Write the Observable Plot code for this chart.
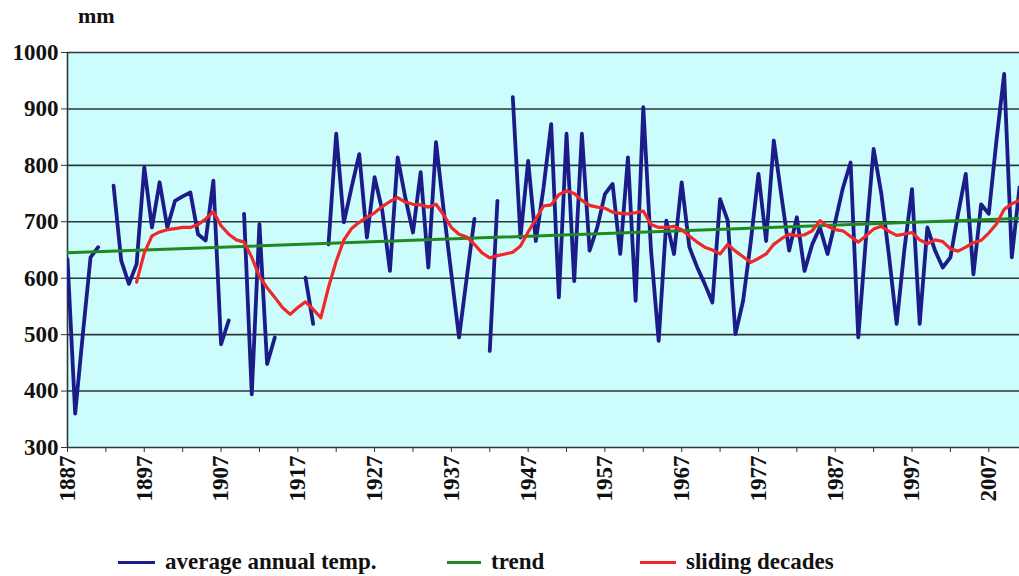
<!DOCTYPE html>
<html><head><meta charset="utf-8">
<script src="https://cdn.jsdelivr.net/npm/d3@7"></script>
<script src="https://cdn.jsdelivr.net/npm/@observablehq/plot@0.6"></script>
<style>
body{margin:0;background:#fff;}
#wrap{position:relative;width:1019px;height:576px;font-family:"Liberation Serif","Times New Roman",serif;font-weight:bold;color:#111;overflow:hidden;}
#chart{position:absolute;left:0;top:0;}
#unit{position:absolute;left:78px;top:4px;font-size:22px;line-height:24px;}
#legend{position:absolute;top:548px;left:0;width:1019px;height:28px;font-size:23px;}
.item{position:absolute;top:0;height:28px;display:flex;align-items:center;white-space:nowrap;}
.sw{display:inline-block;height:3px;margin-right:10px;}
</style></head>
<body><div id="wrap"><div id="chart"></div><div id="unit">mm</div><div id="legend"></div></div>
<script>
const startYear = 1887;
const annual = [
  634, 360, 501, 637, 655, null, 764, 631, 590, 625,
  797, 690, 770, 690, 737, 745, 752, 678, 667, 773,
  483, 525, null, 714, 394, 696, 448, 495, null, null,
  null, 601, 519, null, 660, 856, 699, 761, 820, 672,
  779, 720, 613, 814, 743, 681, 788, 619, 841, 720,
  607, 495, 601, 705, null, 471, 737, null, 921, 672,
  808, 666, 760, 873, 566, 856, 595, 856, 649, 690,
  749, 767, 643, 814, 560, 903, 650, 489, 702, 643,
  770, 655, 620, 590, 557, 740, 702, 501, 560, 665,
  785, 666, 844, 745, 649, 708, 613, 660, 690, 643,
  700, 760, 805, 495, 670, 829, 750, 640, 519, 650,
  758, 519, 690, 649, 619, 637, 714, 785, 607, 731,
  714, 844, 962, 637, 761
];
const slidingStart = 1896;
const sliding = [
  593, 645, 675, 682, 686, 688, 690, 690, 695, 705,
  718, 693, 678, 668, 664, 637, 603, 583, 566, 548,
  536, 548, 558, 545, 530, 584, 630, 668, 688, 699,
  708, 716, 727, 736, 743, 735, 731, 730, 726, 731,
  712, 690, 678, 673, 660, 645, 636, 640, 643, 646,
  657, 682, 705, 728, 730, 748, 755, 750, 738, 729,
  726, 724, 717, 715, 714, 716, 719, 695, 690, 690,
  692, 686, 675, 664, 655, 650, 643, 660, 648, 638,
  628, 635, 643, 660, 670, 678, 675, 677, 684, 702,
  692, 686, 684, 674, 664, 675, 687, 692, 683, 676,
  678, 681, 668, 661, 668, 665, 652, 648, 655, 663,
  667, 680, 696, 722, 732, 738
];
const trendYears = [1887, 2011];
const trendValues = [645, 706];
const yTicks = [300, 400, 500, 600, 700, 800, 900, 1000];
const xLabelYears = [1887, 1897, 1907, 1917, 1927, 1937, 1947, 1957, 1967, 1977, 1987, 1997, 2007];
const xTickYears = [1887, 1892, 1897, 1902, 1907, 1912, 1917, 1922, 1927, 1932, 1937, 1942, 1947, 1952, 1957, 1962, 1967, 1972, 1977, 1982, 1987, 1992, 1997, 2002, 2007];
const seriesNames = ["average annual temp.", "trend", "sliding decades"];
const seriesColors = ["#1c1c88", "#1f8a1f", "#f02828"];
const unitLabel = "mm";

const annualData = annual.map((v, i) => ({year: startYear + i, value: v}));
const slidingData = sliding.map((v, i) => ({year: slidingStart + i, value: v}));
const trendData = trendYears.map((y, i) => ({year: y, value: trendValues[i]}));

const chart = Plot.plot({
  width: 1019, height: 530,
  marginLeft: 67, marginRight: 0, marginTop: 52, marginBottom: 83,
  style: {fontFamily: "'Liberation Serif', serif", fontWeight: "bold", fontSize: "23px", color: "#111", background: "transparent", overflow: "visible"},
  x: {type: "linear", domain: [1887, 2011], label: null},
  y: {domain: [300, 1000], label: null},
  marks: [
    Plot.frame({fill: "#ccfcfc", stroke: null}),
    Plot.gridY(yTicks, {stroke: "#2c3838", strokeOpacity: 1, strokeWidth: 1.6}),
    Plot.ruleX([1887], {stroke: "#2c3838", strokeWidth: 1.6}),
    Plot.axisY(yTicks, {tickSize: 6, tickPadding: 3, label: null, tickFormat: d => String(d), stroke: "#2c3838"}),
    Plot.axisX(xTickYears, {tickSize: 5, tickPadding: 3, tickRotate: -90, label: null, stroke: "#2c3838",
      tickFormat: d => xLabelYears.includes(d) ? String(d) : ""}),
    Plot.line(annualData, {x: "year", y: "value", stroke: seriesColors[0], strokeWidth: 3.8, clip: true}),
    Plot.line(trendData, {x: "year", y: "value", stroke: seriesColors[1], strokeWidth: 3, clip: true}),
    Plot.line(slidingData, {x: "year", y: "value", stroke: seriesColors[2], strokeWidth: 3.2, clip: true})
  ]
});
document.getElementById("chart").appendChild(chart);
document.getElementById("unit").textContent = unitLabel;

const legend = document.getElementById("legend");
const legendPos = [[118, 37], [447, 34], [640, 36]];
seriesNames.forEach((name, i) => {
  const it = document.createElement("div");
  it.className = "item";
  it.style.left = legendPos[i][0] + "px";
  const sw = document.createElement("span");
  sw.className = "sw";
  sw.style.width = legendPos[i][1] + "px";
  sw.style.background = seriesColors[i];
  const tx = document.createElement("span");
  tx.textContent = name;
  it.appendChild(sw); it.appendChild(tx);
  legend.appendChild(it);
});
</script>
</body></html>
